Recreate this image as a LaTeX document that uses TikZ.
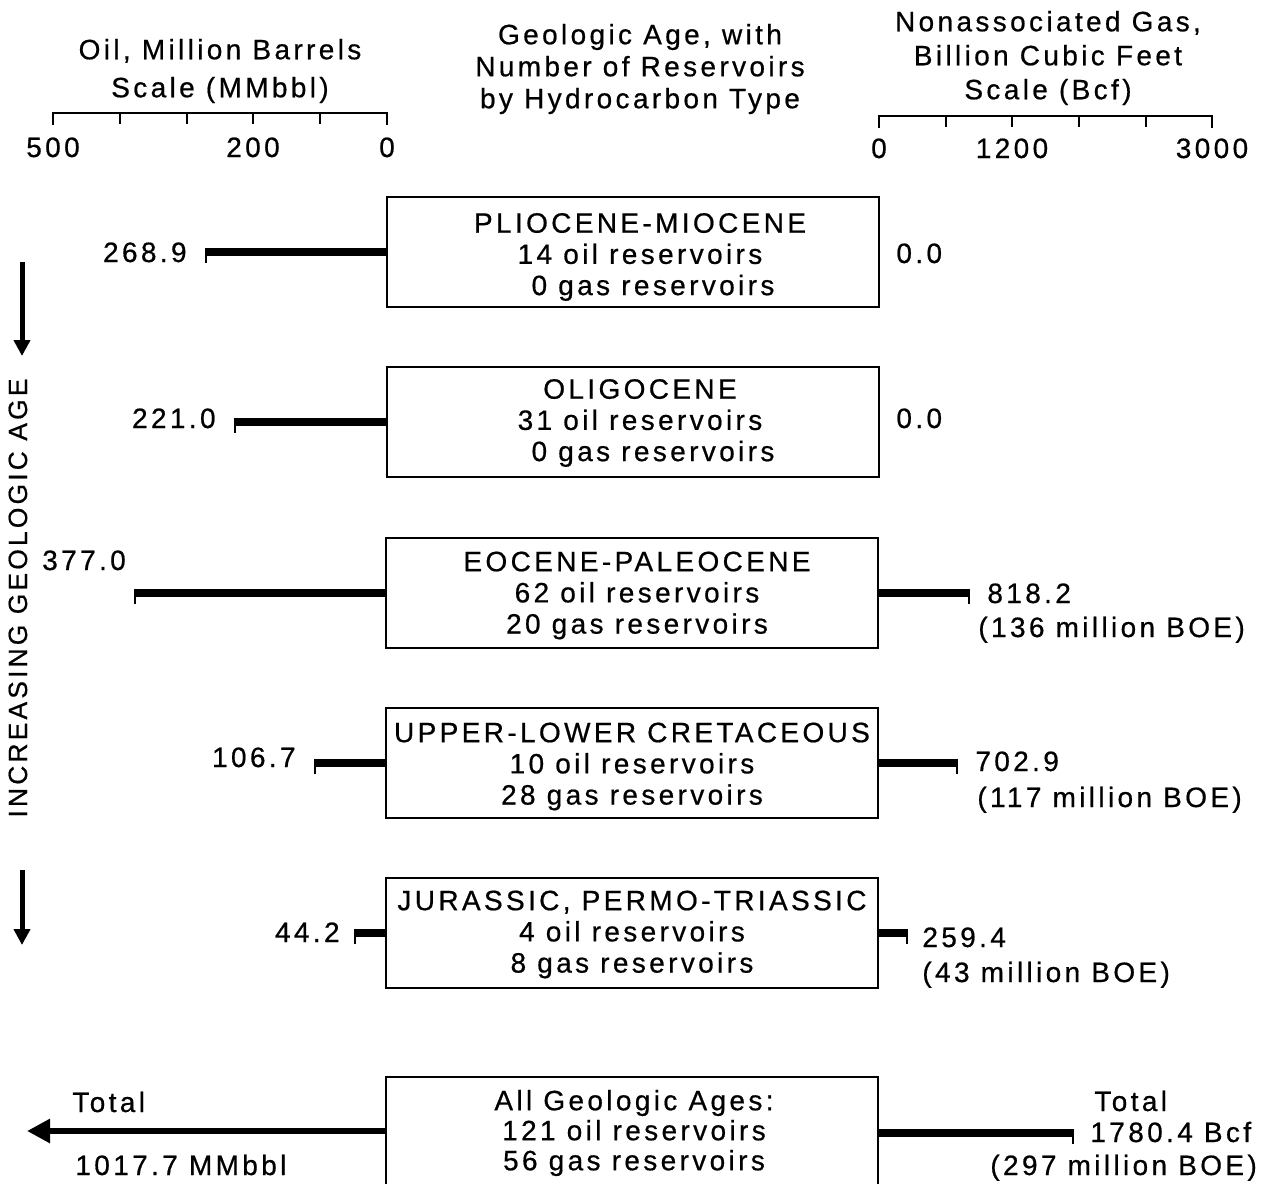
\documentclass[tikz,border=0pt]{standalone}
\usepackage{fontspec}
\setmainfont{Liberation Sans}[LetterSpace=12, BoldFont={Liberation Sans}, BoldFeatures={FakeBold=0.6}]
\usetikzlibrary{arrows.meta}
\begin{document}
\begin{tikzpicture}[x=0.5pt,y=-0.5pt,
  every node/.style={font=\fontsize{14}{16}\selectfont\bfseries, inner sep=0pt},
  agebox/.style={draw, line width=1pt, minimum width=246pt, minimum height=55pt},
  boxtext/.style={align=center, font=\fontsize{14}{15.6}\selectfont\bfseries},
  bar/.style={line width=4pt},
  endtick/.style={line width=1pt},
  lbl/.style={text height=10pt, text depth=0pt},
  title/.style={align=center},
  scaleline/.style={line width=1pt},
]
\useasboundingbox (0,0) rectangle (1266,1184);
\clip (0,0) rectangle (1266,1184);

% titles
\node[title, font=\fontsize{14}{19}\selectfont\bfseries] (toil) at (220,71) {Oil, Million Barrels\\Scale (MMbbl)};
\node[title] (tage) at (640,69) {Geologic Age, with\\Number of Reservoirs\\by Hydrocarbon Type};
\node[title, font=\fontsize{14}{17}\selectfont\bfseries] (tgas) at (1048,58) {Nonassociated Gas,\\Billion Cubic Feet\\Scale (Bcf)};

% oil scale
\draw[scaleline] (53,125) -- (53,113) -- (387,113) -- (387,125);
\foreach \x in {120,187,253,320} \draw[scaleline] (\x,113) -- (\x,124);
\node[lbl] (s500) at (53,147) {500};
\node[lbl] (s200) at (253,147) {200};
\node[lbl] (s0) at (387,147) {0};
% gas scale
\draw[scaleline] (879,128) -- (879,116) -- (1212,116) -- (1212,128);
\foreach \x in {946,1012,1079,1146} \draw[scaleline] (\x,116) -- (\x,127);
\node[lbl] (g0) at (879,148) {0};
\node[lbl] (g1200) at (1012,148) {1200};
\node[lbl] (g3000) at (1212,148) {3000};

% boxes
\node[agebox] (b1) at (633,252) {};
\node[agebox] (b2) at (633,422) {};
\node[agebox] (b3) at (632,592.5) {};
\node[agebox] (b4) at (632,762.5) {};
\node[agebox] (b5) at (632,932.5) {};
\node[agebox, minimum height=58pt] (b6) at (632,1135) {};
\node[boxtext] (t1) at ([shift={(7,5)}]b1.center) {PLIOCENE-MIOCENE\\14 oil reservoirs\\\hspace*{13pt}0 gas reservoirs};
\node[boxtext] (t2) at ([shift={(7,1)}]b2.center) {OLIGOCENE\\31 oil reservoirs\\\hspace*{13pt}0 gas reservoirs};
\node[boxtext] (t3) at ([shift={(5,3)}]b3.center) {EOCENE-PALEOCENE\\62 oil reservoirs\\20 gas reservoirs};
\node[boxtext] (t4) at ([shift={(0,4)}]b4.center) {UPPER-LOWER CRETACEOUS\\10 oil reservoirs\\28 gas reservoirs};
\node[boxtext] (t5) at ([shift={(0,2)}]b5.center) {JURASSIC, PERMO-TRIASSIC\\4 oil reservoirs\\8 gas reservoirs};
\node[boxtext, font=\fontsize{14}{15}\selectfont\bfseries] (t6) at ([shift={(2,-2)}]b6.center) {All Geologic Ages:\\121 oil reservoirs\\56 gas reservoirs};

% oil bars
\coordinate (o1) at (206,252);
\coordinate (o2) at (235,422);
\coordinate (o3) at (135,592.5);
\coordinate (o4) at (315,762.5);
\coordinate (o5) at (355,932.5);
\foreach \b/\e in {b1/o1,b2/o2,b3/o3,b4/o4,b5/o5}{
  \draw[bar] (\b.west |- \e) -- (\e);
  \draw[endtick] (\e) ++(0,-4) -- ++(0,15);
}
% gas bars
\coordinate (n3) at (969,592.5);
\coordinate (n4) at (957,762.5);
\coordinate (n5) at (907,932.5);
\coordinate (n6) at (1073,1133);
\foreach \b/\e in {b3/n3,b4/n4,b5/n5,b6/n6}{
  \draw[bar] (\b.east |- \e) -- (\e);
  \draw[endtick] (\e) ++(0,-4) -- ++(0,15);
}
% total oil arrow
\coordinate (otot) at (27,1131);
\draw[line width=3pt, -{Triangle[length=11.5pt,width=11.5pt]}] (b6.west |- otot) -- (otot);

% oil labels
\node[lbl, anchor=east] (l1) at (187,252) {268.9};
\node[lbl, anchor=east] (l2) at (216,418) {221.0};
\node[lbl] (l3) at (84,560) {377.0};
\node[lbl, anchor=east] (l4) at (296,757) {106.7};
\node[lbl, anchor=east] (l5) at (340,932) {44.2};
% gas labels
\node[lbl, anchor=west] (r1) at (896,253) {0.0};
\node[lbl, anchor=west] (r2) at (896,418) {0.0};
\node[lbl, anchor=west] (r3) at (987,593) {818.2};
\node[lbl, anchor=west] (r3b) at (978,627) {(136 million BOE)};
\node[lbl, anchor=west] (r4) at (975,761) {702.9};
\node[lbl, anchor=west] (r4b) at (977,797) {(117 million BOE)};
\node[lbl, anchor=west] (r5) at (922,937) {259.4};
\node[lbl, anchor=west] (r5b) at (922,972) {(43 million BOE)};
% totals
\node[lbl, anchor=west] (tl1) at (72,1102) {Total};
\node[lbl, anchor=west] (tl2) at (75,1165) {1017.7 MMbbl};
\node[lbl, anchor=west] (tr1) at (1094,1101) {Total};
\node[lbl, anchor=west] (tr2) at (1090,1132) {1780.4 Bcf};
\node[lbl, anchor=west] (tr3) at (990,1165) {(297 million BOE)};

% age axis
\node[lbl, rotate=90, font=\fontsize{13.2}{16}\selectfont\bfseries] (ageax) at (17,598) {INCREASING GEOLOGIC AGE};
\coordinate (a1s) at (22,262);
\coordinate (a1e) at (22,356);
\coordinate (a2s) at (22,870);
\coordinate (a2e) at (22,945);
\draw[line width=2.5pt, -{Triangle[length=8pt,width=8pt]}] (a1s) -- (a1e);
\draw[line width=2.5pt, -{Triangle[length=8pt,width=8pt]}] (a2s) -- (a2e);
\end{tikzpicture}
\end{document}
